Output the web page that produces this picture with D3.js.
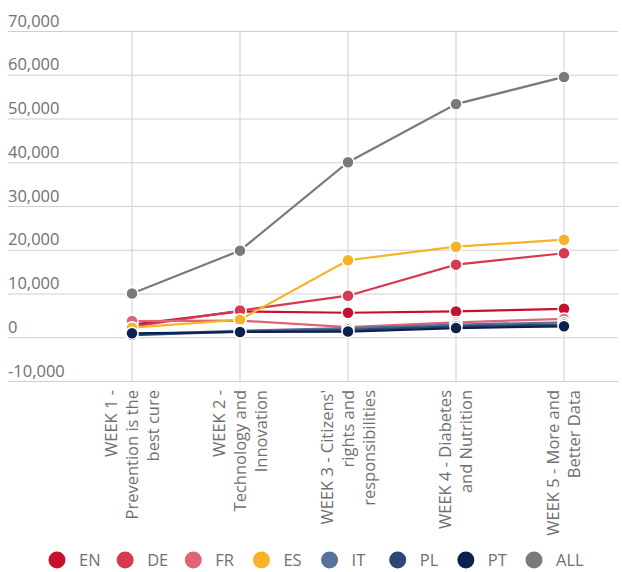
<!DOCTYPE html>
<html>
<head>
<meta charset="utf-8">
<script src="https://cdn.jsdelivr.net/npm/d3@7"></script>
<style>
  html, body { margin: 0; padding: 0; background: #fff; }
  svg { display: block; font-family: "Open Sans", sans-serif; }
</style>
</head>
<body>
<svg id="chart" width="622" height="572"></svg>
<script>
// Weekly topics (multi-line category labels)
const categories = [
  ["WEEK 1 -", "Prevention is the", "best cure"],
  ["WEEK 2 -", "Technology and", "Innovation"],
  ["WEEK 3 - Citizens'", "rights and", "responsibilities"],
  ["WEEK 4 - Diabetes", "and Nutrition"],
  ["WEEK 5 - More and", "Better Data"]
];

// Participants per language
const seriesNames = ["EN", "DE", "FR", "ES", "IT", "PL", "PT", "ALL"];
const seriesColors = ["#c8102e", "#d53a50", "#e06476", "#f5b325", "#58739a", "#2b4877", "#0c2150", "#7a7a7a"];
const EN  = [2900, 5900, 5600, 5900, 6500];
const DE  = [2400, 6100, 9500, 16600, 19200];
const FR  = [3700, 3800, 2300, 3400, 4200];
const ES  = [2200, 4000, 17600, 20700, 22300];
const IT  = [600, 1500, 2100, 2900, 3400];
const PL  = [500, 1300, 1700, 2500, 2900];
const PT  = [900, 1200, 1300, 2100, 2500];
const ALL = [10000, 19800, 40000, 53300, 59500];
const seriesValues = [EN, DE, FR, ES, IT, PL, PT, ALL];

const yTicks = [-10000, 0, 10000, 20000, 30000, 40000, 50000, 60000, 70000];

const svg = d3.select("#chart");
const plot = { left: 78, right: 618, top: 31, bottom: 381 };
const labelColor = "#707070";
const gridColor = "#cfcfcf";
const fontSize = "16.5px";

const keys = categories.map(c => c.join(" "));
const x = d3.scaleBand().domain(keys).range([plot.left, plot.right]);
const cx = k => x(k) + x.bandwidth() / 2;
const y = d3.scaleLinear().domain([-10000, 70000]).range([plot.bottom, plot.top]);

const fmt = d3.formatLocale({ decimal: ".", thousands: ",", grouping: [3], currency: ["", ""], minus: "-" }).format(",");

// Horizontal grid + value labels sitting above each line
const yAxis = svg.append("g")
  .attr("transform", "translate(8,0)")
  .call(d3.axisRight(y).tickValues(yTicks).tickSize(plot.right - 8).tickFormat(fmt));
yAxis.select(".domain").remove();
yAxis.selectAll(".tick line").attr("stroke", gridColor);
yAxis.selectAll(".tick text")
  .attr("x", 0).attr("dy", -5)
  .attr("text-anchor", "start")
  .attr("fill", labelColor)
  .style("font-size", fontSize)
  .style("font-family", "'Open Sans', sans-serif");

// Vertical grid + rotated category labels
const xAxis = svg.append("g")
  .attr("transform", `translate(0,${plot.bottom})`)
  .call(d3.axisBottom(x).tickSize(-(plot.bottom - plot.top)).tickSizeOuter(0));
xAxis.select(".domain").remove();
xAxis.selectAll(".tick line").attr("stroke", gridColor);
xAxis.selectAll(".tick text").each(function (k, i) {
  const lines = categories[i];
  const t = d3.select(this)
    .text(null)
    .attr("transform", "rotate(-90)")
    .attr("text-anchor", "end")
    .attr("fill", labelColor)
    .attr("dy", null)
    .attr("y", null)
    .style("font-size", fontSize)
    .style("font-family", "'Open Sans', sans-serif");
  const lh = 21;
  lines.forEach((s, j) => {
    t.append("tspan")
      .attr("x", -9)
      .attr("y", (j - (lines.length - 1) / 2) * lh)
      .attr("dy", "0.35em")
      .text(s);
  });
});

// Series lines and markers
const line = d3.line().x((d, i) => cx(keys[i])).y(d => y(d));
const seriesG = svg.append("g");
seriesNames.forEach((name, si) => {
  const g = seriesG.append("g").attr("class", "series-" + name);
  g.append("path")
    .datum(seriesValues[si])
    .attr("fill", "none")
    .attr("stroke", seriesColors[si])
    .attr("stroke-width", 2.2)
    .attr("d", line);
  g.selectAll("circle")
    .data(seriesValues[si])
    .join("circle")
    .attr("cx", (d, i) => cx(keys[i]))
    .attr("cy", d => y(d))
    .attr("r", 6)
    .attr("fill", seriesColors[si])
    .attr("stroke", "#fff")
    .attr("stroke-width", 1.5);
});

// Legend
const legend = svg.append("g").attr("transform", "translate(0,560)");
const lx = d3.scalePoint().domain(seriesNames).range([57, 534]);
const item = legend.selectAll("g").data(seriesNames).join("g")
  .attr("transform", d => `translate(${lx(d)},0)`);
item.append("circle")
  .attr("r", 8.5)
  .attr("fill", (d, i) => seriesColors[i]);
item.append("text")
  .attr("x", 22)
  .attr("dy", "0.35em")
  .attr("fill", labelColor)
  .style("font-size", fontSize)
  .text(d => d);
</script>
</body>
</html>
